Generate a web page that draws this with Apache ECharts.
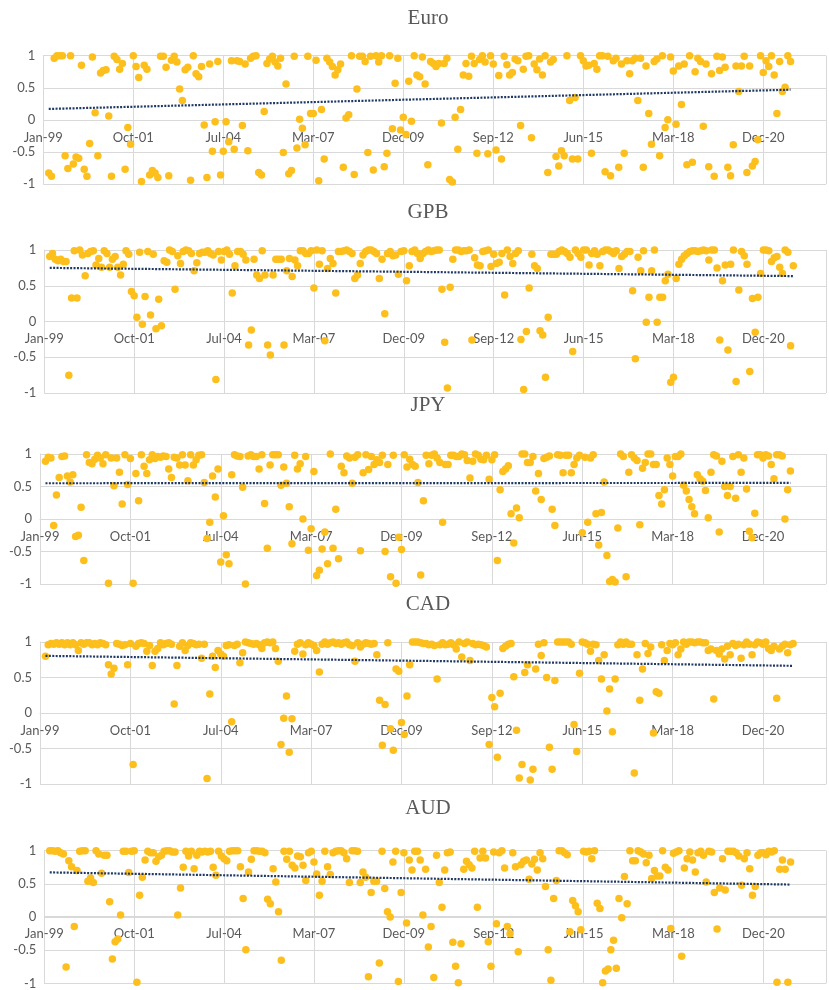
<!DOCTYPE html>
<html>
<head>
<meta charset="utf-8">
<script src="https://cdn.jsdelivr.net/npm/echarts@6/dist/echarts.min.js"></script>
<style>
  html, body { margin: 0; padding: 0; background: #ffffff; }
  #chart { width: 829px; height: 990px; }
</style>
</head>
<body>
<div id="chart"></div>
<script>
// Monthly correlation readings, one value per month starting Mar-99.
const START_MONTH = 2; // months after Jan-99

const tickLabels = ['Jan-99', 'Oct-01', 'Jul-04', 'Mar-07', 'Dec-09', 'Sep-12', 'Jun-15', 'Mar-18', 'Dec-20'];
const panelTitles = ['Euro', 'GPB', 'JPY', 'CAD', 'AUD'];

const euro = [
  -0.83,-0.88,0.96,1.0,1.0,1.0,-0.56,-0.76,1.0,-0.69,
  -0.58,-0.6,0.85,-0.77,-0.88,-0.37,0.98,0.11,-0.56,0.73,
  0.77,0.78,0.06,-0.88,0.99,0.94,0.79,0.88,-0.77,-0.12,
  -0.38,1.0,0.83,0.66,-0.96,0.85,0.79,-0.86,-0.79,-0.83,
  -0.9,0.99,0.99,0.82,-0.87,0.93,0.99,0.9,0.48,0.3,
  0.78,0.82,-0.94,1.0,0.72,0.67,0.83,-0.08,-0.9,0.87,
  -0.49,-0.03,0.91,-0.86,-0.49,-0.03,-0.34,0.92,-0.46,0.92,
  0.91,-0.09,0.87,-0.48,0.96,0.99,1.0,-0.82,-0.86,0.13,
  0.88,0.95,0.99,0.9,0.84,0.96,-0.51,0.56,-0.84,-0.79,
  0.99,-0.44,0.01,-0.13,-0.39,0.99,0.1,0.1,0.93,-0.95,
  0.16,-0.61,0.96,0.9,0.83,0.7,0.78,0.87,-0.74,0.03,
  0.08,1.0,-0.85,0.48,0.99,0.99,0.91,-0.51,0.99,-0.78,
  1.0,0.9,1.0,-0.73,-0.52,1.0,-0.14,0.57,0.96,-0.16,
  0.04,-0.23,0.6,-0.02,1.0,0.7,0.67,
  0.98,0.56,-0.7,0.91,0.88,0.83,0.88,-0.05,0.88,0.96,
  -0.93,-0.97,0.04,-0.46,0.16,0.7,0.88,0.68,0.99,0.88,
  -0.52,0.94,1.0,0.9,-0.53,1.0,0.87,-0.47,0.69,-0.61,
  0.99,0.86,0.7,0.74,0.95,0.92,-0.09,0.79,0.99,1.0,
  -0.28,0.87,0.78,0.95,0.7,1.0,-0.82,0.9,0.94,-0.57,
  -0.72,-0.48,-0.56,1.0,0.3,-0.61,0.35,-0.61,1.0,0.92,
  0.84,0.85,-0.52,0.88,0.79,1.0,1.0,-0.81,0.99,-0.87,
  0.92,0.96,-0.74,0.87,-0.52,0.92,0.72,0.92,0.96,0.3,
  0.96,-0.74,0.84,0.1,-0.38,0.91,0.95,-0.56,1.0,-0.12,
  0.0,0.98,0.76,-0.07,0.84,0.24,0.87,-0.7,1.0,-0.66,
  0.75,0.96,0.91,-0.1,0.87,-0.73,0.72,-0.88,0.99,0.77,
  0.98,0.82,-0.74,-0.87,-0.39,0.84,0.44,0.84,0.99,-0.82,
  0.84,-0.72,-0.65,-0.31,1.0,0.74,0.92,0.83,1.0,0.7,
  0.1,0.91,0.44,0.51,1.0,0.91
];

const gbp = [
  0.91,0.95,0.87,0.85,0.87,0.84,0.84,-0.75,0.33,0.99,
  0.33,1.0,0.93,0.64,0.95,0.98,0.99,0.79,0.88,0.76,
  0.99,0.95,0.76,0.87,0.91,0.76,0.65,0.8,0.99,0.94,
  0.42,0.36,0.06,0.97,-0.04,0.35,0.98,0.09,0.94,-0.1,
  0.31,-0.06,0.85,0.83,1.0,0.98,0.45,0.92,0.81,0.98,
  1.0,0.99,0.95,0.71,0.82,0.95,0.97,0.97,0.99,0.95,
  0.93,-0.81,0.98,0.86,0.98,1.0,0.94,0.4,0.78,0.98,
  0.98,0.94,0.86,-0.33,-0.12,0.87,0.65,0.6,0.99,0.65,
  -0.33,-0.47,0.65,0.87,0.87,0.87,-0.33,0.71,0.88,0.63,
  0.86,0.78,0.99,0.99,0.95,0.95,0.99,0.47,1.0,0.8,
  0.99,-0.27,0.74,0.88,0.81,0.4,0.98,0.98,0.99,1.0,
  0.98,0.95,0.6,0.65,0.81,0.93,0.98,1.0,1.0,0.98,
  0.95,0.6,0.87,0.11,0.95,0.98,0.92,0.93,0.66,0.98,
  0.99,0.57,0.78,0.98,1.0,0.95,0.88,
  0.95,0.98,1.0,0.98,0.99,1.0,1.0,0.45,-0.29,-0.93,
  0.48,0.87,1.0,1.0,0.98,0.99,0.99,1.0,-0.26,0.89,
  0.79,0.78,0.98,0.99,1.0,0.77,0.94,0.81,0.83,0.95,
  0.37,1.0,0.91,0.81,0.95,0.99,-0.25,-0.95,-0.14,0.47,
  0.94,0.78,0.74,-0.13,-0.19,-0.78,0.06,0.94,0.94,0.94,
  0.98,1.0,0.98,0.95,0.9,-0.42,1.0,0.95,0.9,1.0,
  1.0,0.79,0.95,0.99,0.94,0.78,0.98,1.0,1.0,0.98,
  0.95,0.99,0.74,0.91,0.94,0.98,0.98,0.43,-0.52,0.9,
  0.71,0.99,-0.01,0.34,0.71,1.0,-0.01,0.34,0.34,0.57,
  0.66,-0.85,-0.78,0.6,0.8,0.87,0.92,0.95,0.98,0.99,
  0.99,0.98,0.99,1.0,0.99,0.86,1.0,1.0,0.75,-0.26,
  0.57,0.79,-0.4,0.8,1.0,-0.84,0.44,0.98,0.92,0.8,
  -0.7,0.32,-0.15,0.34,0.67,1.0,1.0,0.99,0.84,0.89,
  0.91,0.76,0.67,1.0,0.97,-0.34,0.78
];

const jpy = [
  0.89,0.95,0.94,-0.1,0.37,0.64,0.96,0.97,0.66,0.57,
  0.68,-0.27,-0.25,0.18,-0.64,0.99,0.87,0.85,0.92,0.98,
  0.94,0.85,0.99,-0.99,0.94,0.51,0.94,0.72,0.23,0.99,
  0.53,0.93,-0.99,0.7,0.28,0.99,0.81,0.7,0.91,0.99,
  0.93,0.96,0.95,0.97,0.96,0.77,0.64,0.95,0.94,0.83,
  0.99,0.83,0.59,0.99,0.83,0.91,0.98,0.99,0.56,-0.3,
  -0.05,0.66,0.34,0.77,-0.66,0.05,-0.55,-0.69,0.68,0.99,
  0.97,0.96,0.49,-1.0,0.97,0.99,0.96,0.96,0.77,0.99,
  0.24,-0.45,0.83,0.99,0.99,0.99,0.52,0.8,0.55,0.19,
  -0.38,0.98,0.77,0.85,0.0,0.96,-0.48,-0.15,0.73,-0.87,
  -0.79,-0.46,-0.2,-0.69,1.0,-0.45,0.15,-0.61,0.81,0.71,
  0.97,0.94,0.55,0.95,0.99,-0.49,0.71,0.99,0.76,0.96,
  0.84,0.91,0.87,0.98,-0.5,0.84,-0.89,0.98,-0.99,-0.28,
  -0.47,0.99,0.8,0.92,0.84,0.81,0.56,
  -0.86,0.28,0.98,0.85,0.98,1.0,0.94,0.87,-0.05,0.84,
  0.84,0.98,0.98,0.96,0.96,1.0,0.99,0.9,0.63,0.89,
  1.0,0.98,0.92,0.91,0.98,0.61,0.91,0.99,-0.64,0.45,
  0.73,0.77,0.82,0.08,-0.37,0.17,0.02,1.0,1.0,0.87,
  0.87,0.96,0.43,0.7,0.3,0.93,0.95,0.97,0.15,-0.1,
  0.99,0.98,0.71,0.98,0.98,0.71,0.84,0.94,0.98,-0.21,
  0.95,-0.05,0.94,0.99,0.08,-0.4,0.1,0.57,-0.56,-0.96,
  -0.93,-0.97,-0.14,1.0,0.96,-0.89,0.72,0.99,0.94,0.9,
  -0.09,0.78,0.87,1.0,1.0,0.84,0.84,0.36,0.23,0.45,
  0.94,0.84,0.66,0.96,0.96,1.0,0.52,0.43,0.3,0.19,
  0.08,0.68,0.62,0.58,0.44,0.02,0.72,0.99,0.97,-0.2,
  0.89,0.5,0.36,0.5,0.96,0.32,0.99,0.72,0.94,0.46,
  -0.19,-0.29,0.09,0.99,0.99,0.94,0.99,0.97,0.84,0.62,
  0.99,0.99,0.97,0.0,0.45,0.74
];

const cad = [
  0.8,0.96,0.98,0.97,0.99,0.97,0.99,0.96,0.99,0.96,
  0.99,0.96,0.88,0.99,0.97,0.99,0.99,0.96,0.98,0.96,
  0.99,0.98,0.96,0.68,0.55,0.63,0.98,0.97,0.95,0.96,
  0.68,0.98,-0.72,0.94,0.98,0.99,0.98,0.87,0.95,0.67,
  0.87,0.91,0.99,0.96,0.98,0.99,0.97,0.13,0.67,0.94,
  0.99,0.88,0.95,0.99,0.98,0.96,0.97,0.77,0.97,-0.92,
  0.27,0.8,0.64,0.88,0.83,0.8,0.95,0.96,-0.12,0.95,
  0.97,0.71,0.85,1.0,0.99,0.98,0.97,0.98,0.96,0.91,
  0.99,1.0,0.99,1.0,0.91,0.73,-0.44,-0.07,0.24,-0.55,
  -0.08,0.87,0.97,0.99,0.83,0.96,0.99,0.97,0.95,0.88,
  0.58,0.97,1.0,0.97,0.99,1.0,0.98,0.99,0.97,0.99,
  1.0,0.96,0.95,0.73,0.99,0.93,0.97,0.99,0.98,0.97,
  0.98,0.82,0.18,-0.45,0.12,0.99,-0.22,-0.52,0.62,0.59,
  -0.13,-0.3,0.24,0.68,1.0,1.0,1.0,
  0.99,0.98,0.98,0.96,0.97,0.95,0.48,0.96,0.99,0.96,
  0.97,0.99,0.96,0.9,1.0,0.79,0.98,1.0,0.74,0.98,
  0.96,0.97,0.96,0.95,0.93,-0.44,0.22,0.09,-0.62,0.28,
  0.91,0.94,0.97,0.98,0.51,-0.24,-0.91,-0.72,0.57,0.68,
  -0.94,-0.79,0.62,0.97,0.81,0.99,0.5,-0.48,-0.79,0.46,
  1.0,1.0,1.0,1.0,1.0,0.97,-0.16,-0.54,0.56,1.0,
  0.99,0.97,0.87,0.97,0.96,0.74,0.48,0.82,0.03,0.34,
  -0.26,0.48,0.96,1.0,0.97,1.0,0.97,0.97,-0.84,0.82,
  0.18,0.62,0.98,0.84,0.93,-0.28,0.3,0.28,0.96,0.74,
  0.88,0.98,0.96,0.99,0.82,0.9,1.0,0.97,1.0,1.0,
  0.99,1.0,1.0,0.99,0.99,0.88,0.9,0.2,0.88,0.83,
  0.9,0.76,0.94,0.82,0.98,0.95,0.97,0.77,0.96,1.0,
  0.97,0.82,0.96,1.0,0.99,0.97,1.0,0.91,0.88,0.94,
  0.21,0.9,0.94,0.97,0.85,0.96,0.98
];

const aud = [
  1.0,1.0,0.99,1.0,0.97,0.95,-0.75,0.85,0.76,-0.14,
  0.7,0.99,1.0,1.0,0.54,0.59,0.52,1.0,0.95,0.66,
  0.93,0.93,0.23,-0.63,-0.37,-0.33,0.03,0.99,0.99,0.67,
  0.99,1.0,-0.98,0.33,0.6,0.86,0.99,0.97,0.97,0.84,
  0.91,0.93,0.99,1.0,1.0,0.98,0.98,0.03,0.44,0.75,
  0.99,0.92,0.99,0.73,0.93,0.99,0.98,0.99,0.98,0.99,
  0.75,0.63,0.99,0.92,0.88,0.85,0.99,1.0,1.0,1.0,
  0.76,0.28,-0.49,0.68,0.87,1.0,1.0,0.99,0.99,0.97,
  0.27,0.2,0.73,0.53,0.08,-0.65,0.99,0.87,0.99,0.78,
  0.74,0.92,0.91,0.78,0.55,0.97,0.99,0.83,0.65,0.33,
  0.54,0.99,0.76,0.64,0.97,0.99,1.0,1.0,0.97,0.88,
  0.52,1.0,1.0,0.99,0.52,0.68,0.6,-0.9,0.37,0.54,
  0.54,-0.69,0.99,0.43,0.08,0.0,0.83,0.99,-0.97,0.37,
  0.97,-0.09,0.86,0.71,0.99,0.99,0.86,
  0.03,0.72,-0.45,-0.14,-0.91,0.93,0.52,0.15,0.71,0.97,
  0.98,-0.38,-0.74,-0.99,-0.4,0.72,0.84,0.79,0.74,0.99,
  0.15,0.89,0.99,0.89,-0.37,-0.74,0.98,-0.1,0.97,1.0,
  0.74,-0.14,-0.25,0.97,0.76,-0.52,0.79,0.84,0.86,0.57,
  0.8,0.87,0.71,0.97,0.88,0.46,-0.49,-0.95,0.28,0.55,
  1.0,1.0,0.97,0.94,-0.22,0.25,0.17,0.08,-0.19,0.99,
  0.98,0.99,0.88,1.0,0.21,0.13,-0.99,-0.81,-0.78,-0.49,
  -0.35,-0.77,0.28,-0.01,0.61,0.2,1.0,0.85,0.85,1.0,
  0.98,0.95,0.82,0.93,0.58,0.7,0.62,0.62,1.0,0.75,
  0.71,-0.17,0.96,0.98,1.0,-0.59,0.74,0.88,0.98,0.86,
  0.68,0.97,0.99,0.93,0.53,0.99,0.98,0.37,-0.18,0.44,
  0.88,0.41,0.99,0.99,0.99,0.97,0.92,0.48,0.88,0.97,
  0.73,0.33,0.46,0.93,0.97,0.97,0.94,0.99,0.98,1.0,
  -0.98,0.72,0.86,0.72,-0.98,0.83
];

// Linear trend, value at the first and last month of each series
const trendEuro = [0.17, 0.47];
const trendGbp  = [0.75, 0.635];
const trendJpy  = [0.55, 0.555];
const trendCad  = [0.805, 0.665];
const trendAud  = [0.673, 0.49];

const seriesValues = [euro, gbp, jpy, cad, aud];
const trendValues  = [trendEuro, trendGbp, trendJpy, trendCad, trendAud];

// Panel geometry (pixels): plot left, top, height, and spacing between month ticks
const TICK_STEP = 33;   // months between axis labels
const X_MAX = 287;
const layout = [
  { left: 43.3, top: 55.7,  height: 128.3, tick: 90.5,  titleY: 18 },
  { left: 44.3, top: 250,   height: 143,   tick: 91.05, titleY: 212 },
  { left: 40,   top: 454,   height: 130,   tick: 90.96, titleY: 405 },
  { left: 40,   top: 642,   height: 142.3, tick: 91.46, titleY: 604 },
  { left: 44.3, top: 850.7, height: 133.6, tick: 90.0,  titleY: 808 }
];

const GRID_COLOR = '#d9d9d9';
const TEXT_COLOR = '#595959';
const DOT_COLOR = '#fdbf1c';
const TREND_COLOR = '#1f3864';

const grids = [], xAxes = [], yAxes = [], series = [], graphics = [];

layout.forEach((p, i) => {
  grids.push({
    left: p.left, top: p.top, height: p.height,
    width: p.tick * X_MAX / TICK_STEP
  });
  // The date axis crosses the value axis at 0, i.e. half-way up the plot.
  xAxes.push({
    type: 'value', gridIndex: i, min: 0, max: X_MAX, interval: TICK_STEP,
    position: 'bottom', offset: -p.height / 2,
    axisLine: { show: true, onZero: false, lineStyle: { color: GRID_COLOR, width: 1 } },
    axisTick: { show: false },
    axisLabel: {
      color: TEXT_COLOR, fontFamily: 'Lato', fontSize: 13, margin: 11,
      formatter: v => (v % TICK_STEP === 0 ? tickLabels[v / TICK_STEP] || '' : '')
    },
    splitLine: { show: true, lineStyle: { color: GRID_COLOR, width: 1 } }
  });
  yAxes.push({
    type: 'value', gridIndex: i, min: -1, max: 1, interval: 0.5,
    axisLine: { show: true, onZero: false, lineStyle: { color: GRID_COLOR, width: 1 } },
    axisTick: { show: false },
    axisLabel: { color: TEXT_COLOR, fontFamily: 'Lato', fontSize: 13, margin: 8 },
    splitLine: { show: true, lineStyle: { color: GRID_COLOR, width: 1 } }
  });

  const vals = seriesValues[i];
  series.push({
    type: 'scatter', xAxisIndex: i, yAxisIndex: i,
    symbol: 'circle', symbolSize: 7.5,
    itemStyle: { color: DOT_COLOR, opacity: 1 },
    data: vals.map((v, k) => [START_MONTH + k, v]),
    z: 2
  });
  const t = trendValues[i];
  series.push({
    type: 'line', xAxisIndex: i, yAxisIndex: i,
    symbol: 'none', silent: true,
    lineStyle: { color: TREND_COLOR, width: 2.2, type: [2, 1.4] },
    data: [[START_MONTH, t[0]], [START_MONTH + vals.length - 1, t[1]]],
    z: 3
  });

  graphics.push({
    type: 'text', x: 428, y: p.titleY,
    style: {
      text: panelTitles[i], textAlign: 'center', textVerticalAlign: 'middle',
      font: '21px "Liberation Serif", "Times New Roman", serif', fill: TEXT_COLOR
    }
  });
});

const chart = echarts.init(document.getElementById('chart'), null, { renderer: 'canvas' });
chart.setOption({
  animation: false,
  backgroundColor: '#ffffff',
  grid: grids,
  xAxis: xAxes,
  yAxis: yAxes,
  series: series,
  graphic: graphics
});
</script>
</body>
</html>
